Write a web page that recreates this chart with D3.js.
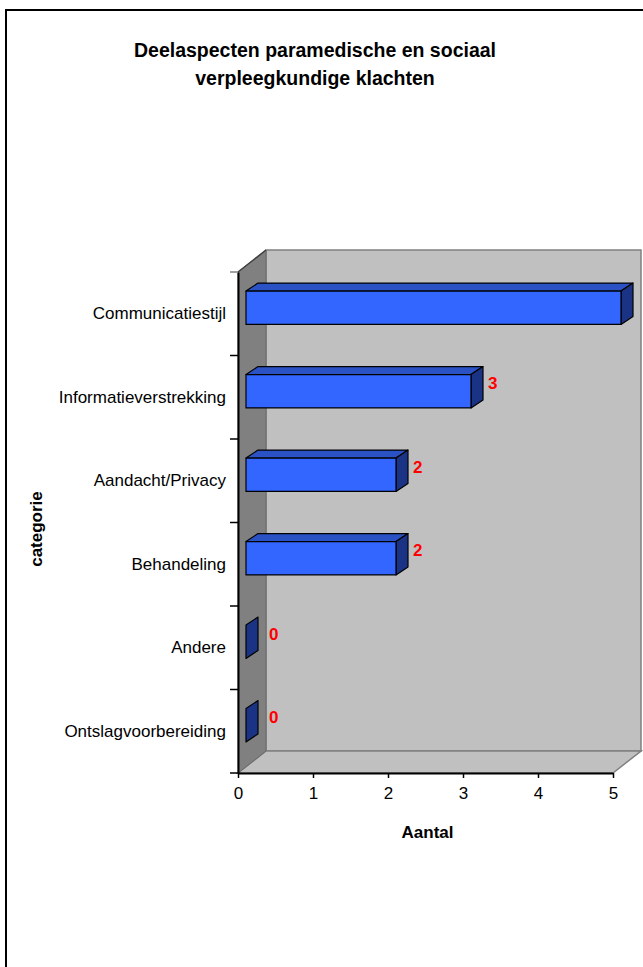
<!DOCTYPE html>
<html>
<head>
<meta charset="utf-8">
<script src="https://cdn.jsdelivr.net/npm/d3@7"></script>
<style>
  html, body { margin: 0; padding: 0; background: #fff; }
  svg { display: block; }
  text { font-family: Arial, "Liberation Sans", sans-serif; }
</style>
</head>
<body>
<svg id="chart" width="643" height="967"></svg>
<script>
// Complaint sub-aspects (paramedical and social nursing complaints)
const categories = ["Communicatiestijl", "Informatieverstrekking", "Aandacht/Privacy",
                    "Behandeling", "Andere", "Ontslagvoorbereiding"];
const counts = [5, 3, 2, 2, 0, 0];
const xTicks = [0, 1, 2, 3, 4, 5];
const titleLines = ["Deelaspecten paramedische en sociaal", "verpleegkundige klachten"];
const xTitle = "Aantal";
const yTitle = "categorie";

const W = 643, H = 967;
const FONT = "Arial, 'Liberation Sans', sans-serif";
const svg = d3.select("#chart");

// Chart area frame
svg.append("rect")
  .attr("x", 6).attr("y", 10).attr("width", 720).attr("height", 1000)
  .attr("fill", "#fff").attr("stroke", "#000").attr("stroke-width", 2);

// Front plane of the 3D plot
const plotL = 238, plotR = 613, plotT = 272, plotB = 773;
const wall = { dx: 28, dy: -22 };       // depth of the walls
const barFront = { dx: 8, dy: -6 };     // bar front face depth
const barBack = { dx: 20, dy: -14 };    // bar back face depth

const x = d3.scaleLinear().domain([0, 5]).range([plotL, plotR]);
const y = d3.scaleBand().domain(categories).range([plotT, plotB])
  .paddingInner(0.6).paddingOuter(0.3);

const pts = a => a.map(p => p.join(",")).join(" ");

// Back wall
svg.append("polygon")
  .attr("points", pts([[plotL + wall.dx, plotT + wall.dy], [plotR + wall.dx, plotT + wall.dy],
                       [plotR + wall.dx, plotB + wall.dy], [plotL + wall.dx, plotB + wall.dy]]))
  .attr("fill", "#c0c0c0").attr("stroke", "#808080").attr("stroke-width", 1.5);

// Floor
svg.append("polygon")
  .attr("points", pts([[plotL, plotB], [plotR, plotB],
                       [plotR + wall.dx, plotB + wall.dy], [plotL + wall.dx, plotB + wall.dy]]))
  .attr("fill", "#c0c0c0").attr("stroke", "#808080").attr("stroke-width", 1.5);

// Side wall
svg.append("polygon")
  .attr("points", pts([[plotL, plotT], [plotL + wall.dx, plotT + wall.dy],
                       [plotL + wall.dx, plotB + wall.dy], [plotL, plotB]]))
  .attr("fill", "#808080").attr("stroke", "#6a6a6a").attr("stroke-width", 1);
svg.append("line")
  .attr("x1", plotL).attr("y1", plotT).attr("x2", plotL + wall.dx).attr("y2", plotT + wall.dy)
  .attr("stroke", "#404040").attr("stroke-width", 1.5);

// Bars: top face, end face, front face
const bars = svg.append("g").selectAll("g").data(categories).join("g");
bars.each(function (c, i) {
  const g = d3.select(this);
  const v = counts[i];
  const y0 = y(c), y1 = y(c) + y.bandwidth();
  const fx0 = x(0) + barFront.dx, fx1 = x(v) + barFront.dx;
  const bx0 = x(0) + barBack.dx, bx1 = x(v) + barBack.dx;
  const fy0 = y0 + barFront.dy, fy1 = y1 + barFront.dy;
  const by0 = y0 + barBack.dy, by1 = y1 + barBack.dy;
  const face = (points, fill) => g.append("polygon").attr("points", pts(points))
    .attr("fill", fill).attr("stroke", "#000").attr("stroke-width", 1.2)
    .attr("stroke-linejoin", "round");
  if (v > 0) face([[fx0, fy0], [bx0, by0], [bx1, by0], [fx1, fy0]], "#2a52c4");
  face([[fx1, fy0], [bx1, by0], [bx1, by1], [fx1, fy1]], "#1a3385");
  if (v > 0) face([[fx0, fy0], [fx1, fy0], [fx1, fy1], [fx0, fy1]], "#3366ff");
});

// Value labels next to the bar ends
const labelX = v => Math.max(x(v) + barBack.dx + 5, plotL + wall.dx + 3);
svg.append("g").selectAll("text")
  .data(categories.map((c, i) => ({ c, v: counts[i] })).filter(d => labelX(d.v) + 12 < W))
  .join("text")
  .attr("x", d => labelX(d.v))
  .attr("y", d => y(d.c) + y.bandwidth() / 2 + barBack.dy)
  .attr("dy", "0.35em")
  .attr("fill", "#ff0000").attr("font-weight", "bold").attr("font-size", 17)
  .text(d => d.v);

// Category axis
const yAxis = svg.append("g").attr("transform", `translate(${plotL},0)`)
  .call(d3.axisLeft(y).tickSize(0).tickPadding(12));
yAxis.select(".domain").attr("stroke", "#000").attr("stroke-width", 2);
yAxis.selectAll("text").attr("font-size", 17).attr("fill", "#000").attr("font-family", FONT);
const boundaries = d3.range(categories.length + 1).map(k => plotT + k * y.step());
svg.append("g").selectAll("line").data(boundaries).join("line")
  .attr("x1", plotL - 8).attr("x2", plotL).attr("y1", d => d).attr("y2", d => d)
  .attr("stroke", (d, k) => k === 0 ? "#808080" : "#000").attr("stroke-width", 1.5);

// Value axis
const xAxis = svg.append("g").attr("transform", `translate(0,${plotB})`)
  .call(d3.axisBottom(x).tickValues(xTicks).tickFormat(d3.format("d"))
    .tickSize(5).tickSizeOuter(0).tickPadding(9));
xAxis.select(".domain").attr("stroke", "#000").attr("stroke-width", 2);
xAxis.selectAll(".tick line").attr("stroke", "#000").attr("stroke-width", 1.5);
xAxis.selectAll("text").attr("font-size", 17).attr("fill", "#000").attr("font-family", FONT);

// Titles
svg.append("g").selectAll("text").data(titleLines).join("text")
  .attr("x", 315).attr("y", (d, i) => 57 + i * 28)
  .attr("text-anchor", "middle").attr("font-weight", "bold").attr("font-size", 19.5)
  .text(d => d);

svg.append("text")
  .attr("x", (plotL + plotR) / 2 + 2).attr("y", 838)
  .attr("text-anchor", "middle").attr("font-weight", "bold").attr("font-size", 17)
  .text(xTitle);

svg.append("text")
  .attr("transform", `translate(42,529) rotate(-90)`)
  .attr("text-anchor", "middle").attr("font-weight", "bold").attr("font-size", 17)
  .text(yTitle);
</script>
</body>
</html>
